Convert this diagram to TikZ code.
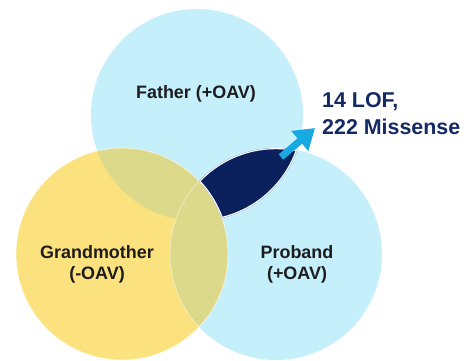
\documentclass[tikz,border=0pt]{standalone}
\usepackage{fontspec}
\setmainfont{Liberation Sans}
\usetikzlibrary{arrows.meta}
\definecolor{vblue}{HTML}{C6EFFC}
\definecolor{vyellow}{HTML}{FCE17F}
\definecolor{volive}{HTML}{DCD98A}
\definecolor{vnavy}{HTML}{0A215E}
\definecolor{labeltext}{HTML}{1C1C1C}
\definecolor{sumtext}{HTML}{142A63}
\definecolor{arrowc}{HTML}{17A9E1}
\begin{document}
\begin{tikzpicture}[x=1bp,y=-1bp,
  venn/.style={circle, minimum size=212bp, inner sep=0pt, draw=none},
  lbl/.style={font=\bfseries\fontsize{18}{21}\selectfont, text=labeltext, align=center, inner sep=0pt},
  sumlbl/.style={font=\bfseries\fontsize{21.5}{27}\selectfont, text=sumtext, align=left, inner sep=0pt},
  pointer/.style={draw=arrowc, line width=7bp, -{Triangle[length=20bp 0 0,width=25bp 0 0]}}
  ]
\useasboundingbox (0,0) rectangle (467,360);
% circles
\node[venn, fill=vblue] (father) at (197,115) {};
\node[venn, fill=vblue] (proband) at (276,254) {};
\node[venn, fill=vyellow] (grandma) at (122,254) {};
% overlaps with grandmother
\begin{scope}
  \clip (grandma.center) circle[radius=106];
  \fill[volive] (father.center) circle[radius=106] (proband.center) circle[radius=106];
  \draw[white, opacity=0.45, line width=0.8bp] (proband.center) circle[radius=106];
\end{scope}
\draw[white, opacity=0.6, line width=0.8bp] (grandma.center) circle[radius=106];
% father & proband only
\begin{scope}
  \clip (father.center) circle[radius=106];
  \clip (proband.center) circle[radius=106];
  \begin{scope}[even odd rule]
    \clip (-10,-10) rectangle (477,370) (grandma.center) circle[radius=106];
    \fill[vnavy] (-10,-10) rectangle (477,370);
    \draw[white, line width=2.4bp, nonzero rule] (father.center) circle[radius=106]
      (proband.center) circle[radius=106] (grandma.center) circle[radius=106];
  \end{scope}
\end{scope}
% labels
\node[lbl] (tfather) at (196,94) {Father (+OAV)};
\node[lbl] (tgm) at (97,264) {Grandmother\\(-OAV)};
\node[lbl] (tpb) at (297,264) {Proband\\(+OAV)};
\node[sumlbl, anchor=west] (sum) at (322,114) {14 LOF,\\222 Missense};
% arrow
\coordinate (atail) at (281,157);
\coordinate (atip) at (315,128);
\draw[pointer] (atail) -- (atip);
\end{tikzpicture}
\end{document}
